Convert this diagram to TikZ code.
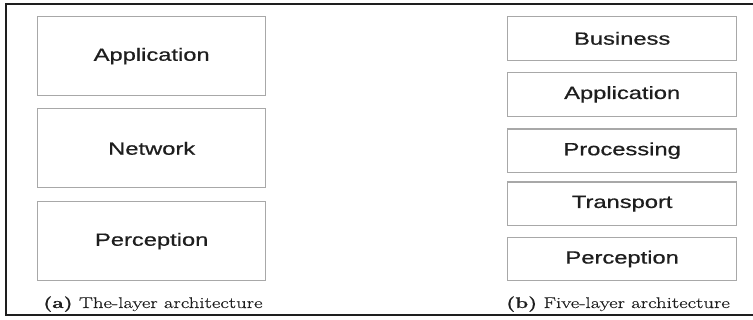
\documentclass[tikz,border=0pt]{standalone}
\usepackage{fontspec}
\usepackage{graphicx}
\newfontfamily\layerfont[FakeBold=0.6]{Liberation Sans}
\newfontfamily\capfont[FakeBold=0.35]{Latin Modern Roman}
\definecolor{boxline}{HTML}{A8A8A8}
\definecolor{ink}{HTML}{1E1E1E}
\newcommand{\layertext}[1]{\scalebox{1.34}[1]{\fontsize{17.7}{18}\layerfont #1}}
\newcommand{\captext}[1]{\scalebox{1.34}[1]{\fontsize{15.5}{17}\capfont #1}}
\begin{document}
\begin{tikzpicture}[x=1pt,y=-1pt,
  layer/.style={draw=boxline,line width=1.2pt,rectangle,inner sep=0pt,text=ink},
  bigbox/.style={layer,minimum width=228pt,minimum height=79pt},
  smallbox/.style={layer,minimum width=229pt,minimum height=43.5pt},
  capnode/.style={inner sep=0pt,text=ink}]
\useasboundingbox (0,0) rectangle (753,320);
% outer frame (right side runs off the page)
\draw[line width=2.6pt,ink] (760,4) -- (6,4) -- (6,315) -- (760,315);

% three-layer stack
\node[bigbox] (a1) at (151.7,56.2) {\layertext{Application}};
\node[bigbox] (a2) at (151.7,148.4) {\layertext{Network}};
\node[bigbox] (a3) at (151.7,241.2) {\layertext{Perception}};
\node[capnode,anchor=base west] (capa) at (43,308) {\captext{\textbf{(a)} The-layer architecture}};

% five-layer stack
\node[smallbox] (b1) at (622.2,38.4) {\layertext{Business}};
\node[smallbox] (b2) at (622.2,94.4) {\layertext{Application}};
\node[smallbox] (b3) at (622.2,150.7) {\layertext{Processing}};
\node[smallbox] (b4) at (622.2,203.7) {\layertext{Transport}};
\node[smallbox] (b5) at (622.2,259.0) {\layertext{Perception}};
\node[capnode,anchor=base east] (capb) at (730,308) {\captext{\textbf{(b)} Five-layer architecture}};
\end{tikzpicture}
\end{document}
